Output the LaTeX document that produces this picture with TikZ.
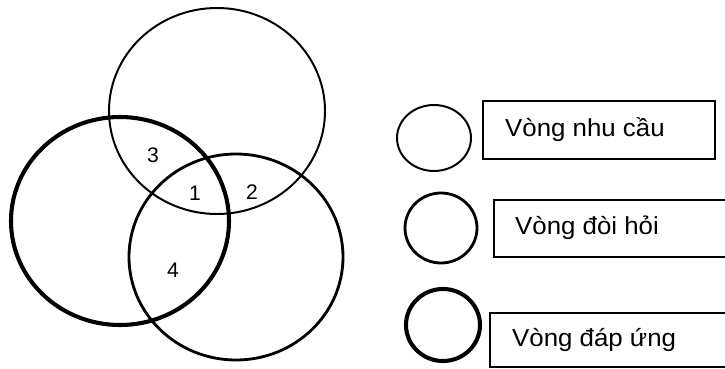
\documentclass[tikz,border=0pt]{standalone}
\usepackage{fontspec}
\setmainfont{Liberation Sans}
\usepackage{tikz}

\begin{document}
\begin{tikzpicture}[x=0.025cm, y=-0.025cm,
	thinring/.style={line width=1.4pt},
	midring/.style={line width=2pt},
	thickring/.style={line width=2.9pt},
	legbox/.style={line width=1.1pt},
	num/.style={font=\fontsize{15}{17}\selectfont},
	legtext/.style={anchor=west, font=\fontsize{17.5}{20}\selectfont, xscale=1.05}]
	\useasboundingbox (0,0) rectangle (725,369);

	% ba vòng tròn
	\draw[thinring] (217,111) ellipse [x radius=108, y radius=103];
	\draw[midring] (236,257) ellipse [x radius=107, y radius=103];
	\draw[thickring] (120,221) ellipse [x radius=109, y radius=104];

	% các vùng giao nhau
	\node[num] (r3) at (153,155) {3};
	\node[num] (r1) at (195,193) {1};
	\node[num] (r2) at (252,192) {2};
	\node[num] (r4) at (173,270) {4};

	% chú thích
	\draw[thinring] (434,138) ellipse [x radius=37, y radius=33];
	\draw[legbox] (483,101) rectangle (715,159);
	\node[legtext] (nhucau) at (500,130) {Vòng nhu cầu};

	\draw[midring] (441,228) ellipse [x radius=36, y radius=35];
	\draw[legbox] (494,200) rectangle (735,257);
	\node[legtext] (doihoi) at (510,228) {Vòng đòi hỏi};

	\draw[thickring] (443,325) ellipse [x radius=37, y radius=36];
	\draw[legbox] (490,313) rectangle (735,367);
	\node[legtext] (dapung) at (507,340) {Vòng đáp ứng};
\end{tikzpicture}
\end{document}
